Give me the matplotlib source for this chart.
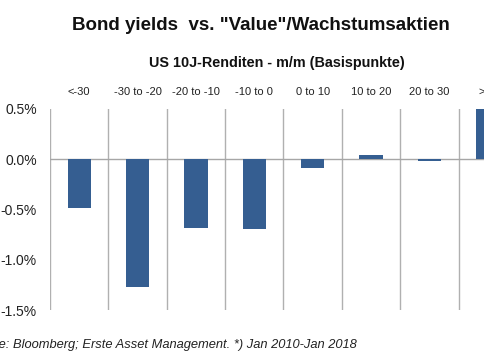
import matplotlib.pyplot as plt
import numpy as np

plt.rcParams['font.family'] = ['Liberation Sans', 'DejaVu Sans']

categories = ["<-30", "-30 to -20", "-20 to -10", "-10 to 0",
              "0 to 10", "10 to 20", "20 to 30", ">30"]
values = [-0.49, -1.27, -0.68, -0.69, -0.09, 0.045, -0.015, 0.51]
yticks = [0.5, 0.0, -0.5, -1.0, -1.5]

W, H = 485, 360
fig = plt.figure(figsize=(W / 100, H / 100), dpi=100)

# plot area runs off the right edge, like the cropped original
left, right, top, bottom = 50, 517, 109, 310
ax = fig.add_axes([left / W, 1 - bottom / H, (right - left) / W, (bottom - top) / H])

x = np.arange(len(categories))
ax.bar(x, values, width=0.4, color='#355E91', zorder=3)

ax.set_xlim(-0.5, len(categories) - 0.5)
ax.set_ylim(-1.5, 0.5)
ax.axhline(0, color='#A6A6A6', linewidth=1, zorder=2)

# vertical separators between categories
for sep in np.arange(-0.5, len(categories), 1.0):
    ax.axvline(sep, color='#B0B0B0', linewidth=1, zorder=1)

for s in ax.spines.values():
    s.set_visible(False)

ax.set_yticks(yticks)
ax.set_yticklabels([f"{v:.1f}%" for v in yticks], fontsize=10, color='#222222')
ax.tick_params(axis='y', length=0, pad=9.5)

ax.xaxis.tick_top()
ax.set_xticks(x)
ax.set_xticklabels(categories, fontsize=8, color='#222222')
ax.tick_params(axis='x', length=0, pad=8.5)

fig.text(261 / W, 1 - 25 / H, 'Bond yields  vs. "Value"/Wachstumsaktien',
         ha='center', va='center', fontsize=13.5, fontweight='bold', color='#111111')
fig.text(277 / W, 1 - 63 / H, 'US 10J-Renditen - m/m (Basispunkte)',
         ha='center', va='center', fontsize=10.4, fontweight='bold', color='#111111')
fig.text(357 / W, 1 - 345 / H,
         'Source: Bloomberg; Erste Asset Management. *) Jan 2010-Jan 2018',
         ha='right', va='center', fontsize=9.3, style='italic', color='#222222')

fig.savefig('out.png', dpi=100)
